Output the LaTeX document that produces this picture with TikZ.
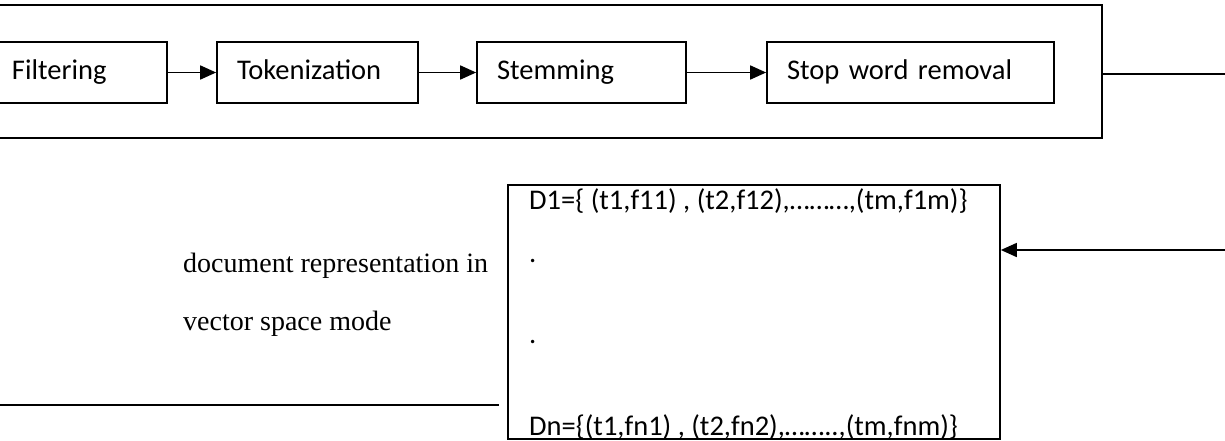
\documentclass[tikz,border=0pt]{standalone}
\usepackage{fontspec}
\setmainfont{Liberation Serif}
\newfontfamily\boxfont{Carlito}
\usetikzlibrary{arrows.meta}

\tikzset{
  wire/.style={line width=1.7pt},
  arr/.style={wire,-{Triangle[length=16pt,width=14pt]}},
  frame/.style={draw,line width=1.7pt,inner sep=0pt},
  stage/.style={draw,line width=1.7pt,font=\boxfont\fontsize{28.5}{30}\selectfont,
    minimum height=61pt,inner xsep=20pt,inner ysep=0pt,align=left,
    text height=20pt,text depth=6pt},
  vtext/.style={font=\boxfont\fontsize{28.5}{30}\selectfont,anchor=base west,inner sep=0pt},
  note/.style={font=\fontsize{28}{30}\selectfont,anchor=base west,inner sep=0pt}
}

\begin{document}
\begin{tikzpicture}[x=1pt,y=-1pt]
\clip (0,0) rectangle (1225,441);

% preprocessing frame
\node[frame,minimum width=1117pt,minimum height=133pt] (pre) at (543.5,71.5) {};

% preprocessing stages
\node[stage,text width=135pt] (filt) at (79.5,72.5) {Filtering};
\node[stage,text width=161pt] (tok)  at (317.5,72.5) {Tokenization};
\node[stage,text width=169pt] (stem) at (581.5,72.5) {Stemming};
\node[stage,text width=247pt] (stop) at (910.5,72.5) {Stop word removal};

\draw[arr] (filt) -- (tok);
\draw[arr] (tok) -- (stem);
\draw[arr] (stem) -- (stop);

% output of preprocessing
\coordinate (r1) at (1230,74);
\draw[wire] (r1 -| pre.east) -- (r1);

% vector space representation
\node[frame,minimum width=492pt,minimum height=254pt] (vsm) at (754,312) {};
\node[vtext] (d1)   at (529,209) {D1=\{ (t1,f11) , (t2,f12),………,(tm,f1m)\}};
\node[vtext] (dot1) at (529,262) {.};
\node[vtext] (dot2) at (529,343) {.};
\node[vtext] (dn)   at (529,435) {Dn=\{(t1,fn1) , (t2,fn2),……..,(tm,fnm)\}};

\coordinate (r2) at (1230,250);
\draw[arr] (r2) -- (r2 -| vsm.east);

% caption text and outgoing line
\node[note] (cap1) at (183,272) {document representation in};
\node[note] (cap2) at (183,330) {vector space mode};

\coordinate (l0) at (-5,405);
\draw[wire,shorten >=8pt] (l0) -- (l0 -| vsm.west);
\end{tikzpicture}
\end{document}
